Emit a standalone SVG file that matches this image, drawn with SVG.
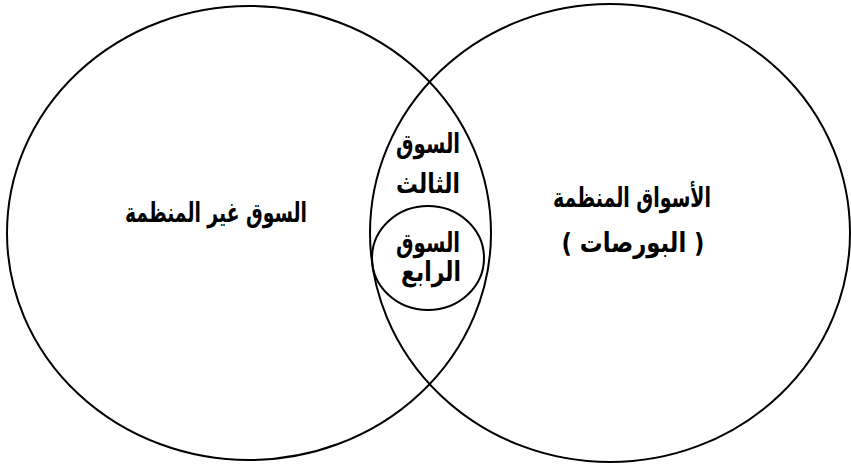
<svg xmlns="http://www.w3.org/2000/svg" width="851" height="464" viewBox="0 0 851 464">
  <style>
    .ring { fill: none; stroke: #000; stroke-width: 2; }
    .lbl { font-family: "DejaVu Sans", "Noto Sans", sans-serif; font-weight: bold; font-size: 27px; fill: #000; text-anchor: middle; direction: rtl; }
  </style>
  <rect x="0" y="0" width="851" height="464" fill="#fff"/>
  <g id="unorganized-market">
    <ellipse class="ring" cx="249" cy="233" rx="242" ry="227"/>
    <text class="lbl" x="216" y="222" textLength="182" lengthAdjust="spacingAndGlyphs">السوق غير المنظمة</text>
  </g>
  <g id="organized-markets">
    <ellipse class="ring" cx="610" cy="233" rx="240" ry="229"/>
    <text class="lbl" x="632" y="207" textLength="158" lengthAdjust="spacingAndGlyphs">الأسواق المنظمة</text>
    <text class="lbl" x="633" y="252" textLength="143" lengthAdjust="spacingAndGlyphs">( البورصات )</text>
  </g>
  <g id="third-market">
    <text class="lbl" x="428" y="153" textLength="64" lengthAdjust="spacingAndGlyphs">السوق</text>
    <text class="lbl" x="428" y="193" textLength="64" lengthAdjust="spacingAndGlyphs">الثالث</text>
  </g>
  <g id="fourth-market">
    <ellipse class="ring" cx="428" cy="258" rx="56" ry="52"/>
    <text class="lbl" x="428" y="252" textLength="64" lengthAdjust="spacingAndGlyphs">السوق</text>
    <text class="lbl" x="431" y="281" textLength="60" lengthAdjust="spacingAndGlyphs">الرابع</text>
  </g>
</svg>
